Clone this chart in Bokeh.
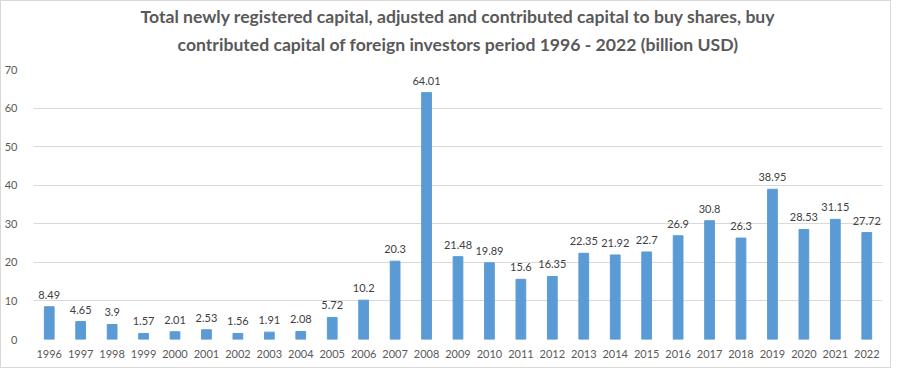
from bokeh.plotting import figure
from bokeh.models import ColumnDataSource, LabelSet, Title, FactorRange, Range1d, SingleIntervalTicker
from bokeh.core.properties import value
from bokeh.embed import file_html
from bokeh.resources import INLINE

years = ["1996", "1997", "1998", "1999", "2000", "2001", "2002", "2003", "2004", "2005",
         "2006", "2007", "2008", "2009", "2010", "2011", "2012", "2013", "2014", "2015",
         "2016", "2017", "2018", "2019", "2020", "2021", "2022"]
capital = [8.49, 4.65, 3.9, 1.57, 2.01, 2.53, 1.56, 1.91, 2.08, 5.72,
           10.2, 20.3, 64.01, 21.48, 19.89, 15.6, 16.35, 22.35, 21.92, 22.7,
           26.9, 30.8, 26.3, 38.95, 28.53, 31.15, 27.72]
value_labels = [f"{v:g}" for v in capital]
title_line1 = "Total newly registered capital, adjusted and contributed capital to buy shares, buy"
title_line2 = "contributed capital of foreign investors period 1996 - 2022 (billion USD)"

FONT = "Lato"
src = ColumnDataSource(dict(year=years, val=capital, lab=value_labels))

p = figure(width=891, height=368, x_range=FactorRange(*years, range_padding=0),
           y_range=Range1d(0, 70), output_backend="svg", toolbar_location=None,
           min_border_left=30, min_border_right=10, min_border_bottom=30, min_border_top=8)
p.styles = {"border": "1px solid #d9d9d9"}
p.outline_line_color = None
p.background_fill_color = "white"
p.border_fill_color = "white"

p.vbar(x="year", top="val", width=0.31, source=src, color="#5B9BD5")

p.add_layout(LabelSet(x="year", y="val", text="lab", source=src, y_offset=8,
                      text_align="center", text_baseline="bottom",
                      text_font=value(FONT), text_font_size="11px", text_color="#404040"))

# spacer between the title block and the plot area
p.add_layout(Title(text=" ", text_font_size="1px", standoff=9), "above")
p.add_layout(Title(text=title_line2, align="center", text_font=FONT, text_font_size="17.6px",
                   text_font_style="bold", text_color="#595959", standoff=5), "above")
p.add_layout(Title(text=title_line1, align="center", text_font=FONT, text_font_size="17.6px",
                   text_font_style="bold", text_color="#595959", standoff=5), "above")

p.yaxis.ticker = SingleIntervalTicker(interval=10)
for ax in (p.xaxis[0], p.yaxis[0]):
    ax.axis_line_color = None
    ax.major_tick_line_color = None
    ax.minor_tick_line_color = None
    ax.major_label_text_font = FONT
    ax.major_label_text_font_size = "11px"
    ax.major_label_text_color = "#595959"
p.yaxis.major_label_standoff = 10
p.xaxis.major_label_standoff = 4
p.xgrid.grid_line_color = None
p.ygrid.grid_line_color = "#d9d9d9"
p.ygrid.grid_line_width = 1

open("out.html", "w").write(file_html(p, INLINE))
